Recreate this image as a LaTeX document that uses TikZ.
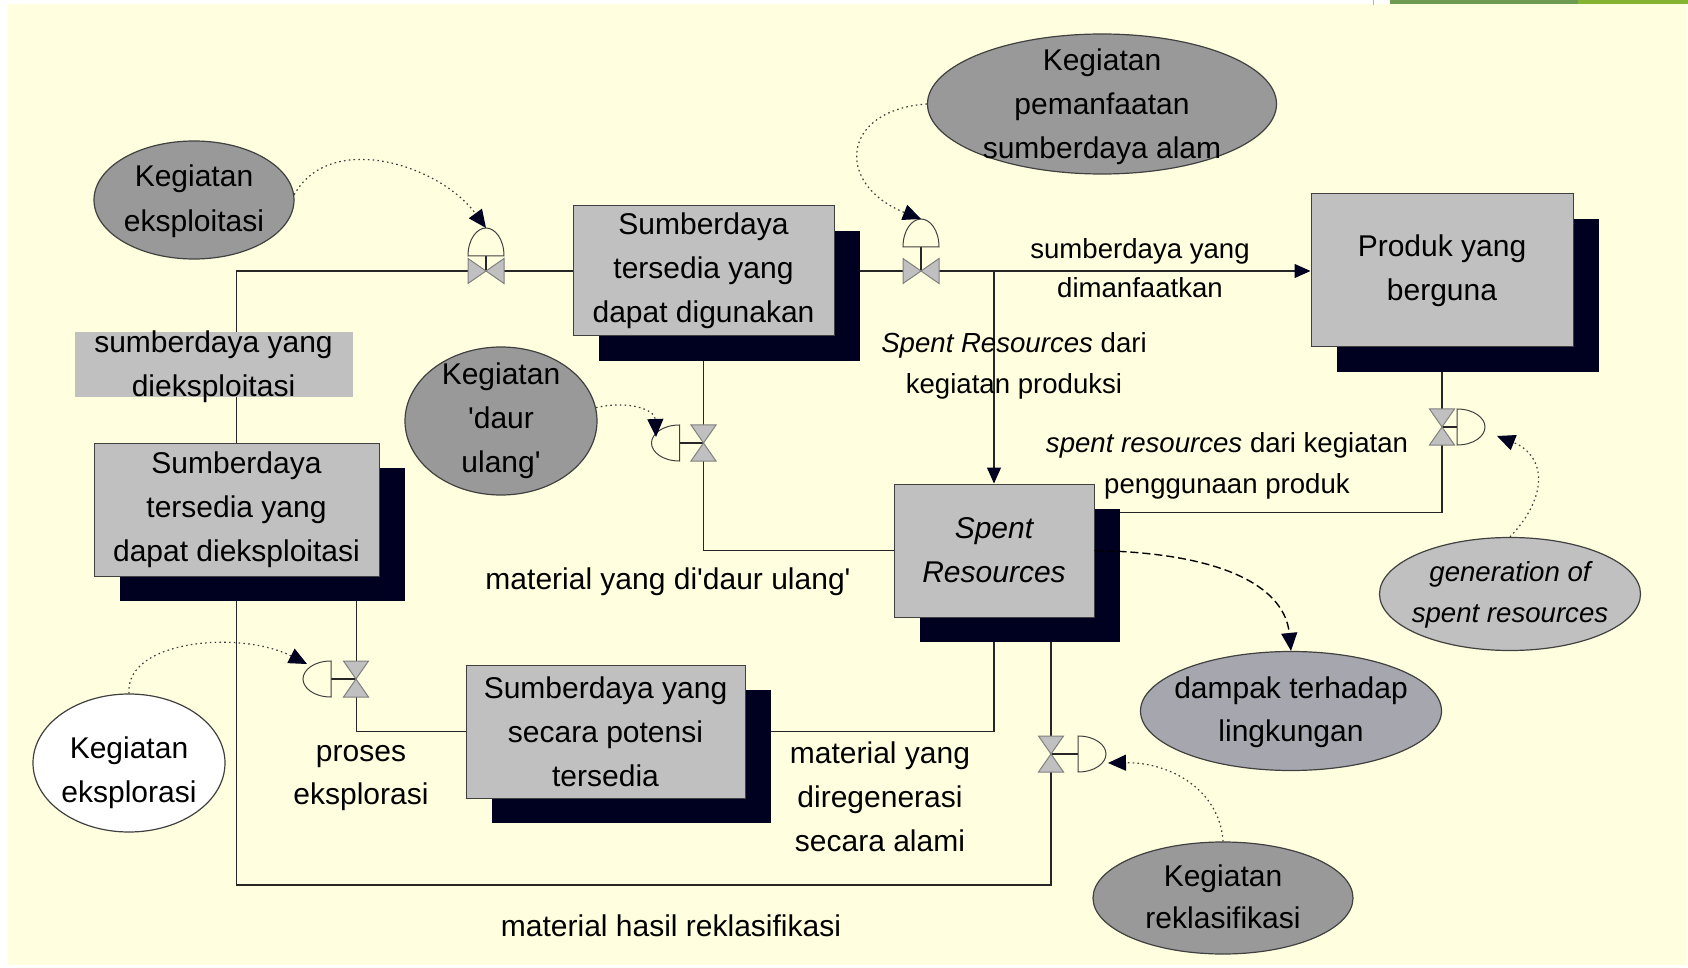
\documentclass[tikz,border=0pt]{standalone}
\usepackage{fontspec}
\setmainfont{Liberation Sans}
\usetikzlibrary{shapes.geometric,arrows.meta,shadows,calc}
\definecolor{bgy}{HTML}{FFFFDF}
\definecolor{boxg}{HTML}{C0C0C0}
\definecolor{ellg}{HTML}{999999}
\definecolor{navy}{HTML}{000020}
\definecolor{edge}{HTML}{404040}
\definecolor{dampakc}{HTML}{A6A6AE}
\definecolor{greenA}{HTML}{6F9A52}
\definecolor{greenB}{HTML}{84B431}
\pgfdeclarelayer{bg}
\pgfdeclarelayer{flows}
\pgfsetlayers{bg,flows,main}
\begin{document}
\begin{tikzpicture}[x=0.5pt,y=-0.5pt,
  txt/.style={align=center,inner sep=0pt,font=\fontsize{15pt}{22pt}\selectfont},
  smalltxt/.style={align=center,inner sep=0pt,font=\fontsize{13.8pt}{#1}\selectfont},
  stockbox/.style={draw=edge,fill=boxg,line width=0.5pt,inner sep=0pt,align=center,
    font=\fontsize{15pt}{22pt}\selectfont,
    drop shadow={shadow xshift=13pt,shadow yshift=-12.5pt,fill=navy,opacity=1}},
  ell/.style={ellipse,draw=edge,line width=0.6pt,fill=ellg,inner sep=0pt},
  flow/.style={draw=black!85,line width=0.6pt},
  flowarr/.style={flow,-{Triangle[length=8pt,width=7pt,color=navy]}},
  info/.style={draw=black!75,line width=0.6pt,dash pattern=on 0.8pt off 1.6pt,
    -{Triangle[length=9pt,width=8pt,color=navy]}},
  impact/.style={draw=black,line width=0.7pt,dash pattern=on 4pt off 2pt,
    -{Triangle[length=9pt,width=8pt,color=navy]}},
  pics/valve/.style={code={
    \draw[flow] (0,0) -- (0,-#1);
    \draw[draw=edge,line width=0.5pt,fill=bgy] (-18,-#1) .. controls (-18,-#1-17) and (-9,-#1-28) .. (0,-#1-28)
       .. controls (9,-#1-28) and (18,-#1-17) .. (18,-#1) -- cycle;
    \draw[draw=gray,fill=boxg,line width=0.5pt] (-18,-12.5) -- (0,0) -- (18,-12.5) -- (18,12.5) -- (0,0) -- (-18,12.5) -- cycle;
  }}
]
\useasboundingbox (0,0) rectangle (1688,968);
\begin{pgfonlayer}{bg}
\fill[white] (0,0) rectangle (1688,968);
\fill[bgy] (8,4) rectangle (1687,965);
\fill[greenA] (1390,0) rectangle (1578,4);
\fill[greenB] (1578,0) rectangle (1688,4);
\draw[black!30,line width=0.5pt] (1373,0) -- (1373,5);
\end{pgfonlayer}

% stocks
\node[stockbox,minimum width=130.5pt,minimum height=65pt] (boxA) at (703.5,271) {Sumberdaya\\tersedia yang\\dapat digunakan};
\node[stockbox,minimum width=131pt,minimum height=76.5pt] (boxP) at (1442,270.5) {Produk yang\\berguna};
\node[stockbox,minimum width=142.5pt,minimum height=66.5pt] (boxE) at (236.5,509.5) {Sumberdaya\\tersedia yang\\dapat dieksploitasi};
\node[stockbox,minimum width=100pt,minimum height=66.5pt,font=\fontsize{15pt}{22pt}\selectfont\itshape] (boxS) at (994,550.5) {Spent\\Resources};
\node[stockbox,minimum width=139.5pt,minimum height=66.5pt] (boxV) at (605.5,731.5) {Sumberdaya yang\\secara potensi\\tersedia};

% label on grey strip
\node[fill=boxg,minimum width=139pt,minimum height=32.5pt,inner sep=0pt] (lblRect) at (214,364.5) {};
\node[txt] (lblExp) at (213.5,367) {sumberdaya yang\\dieksploitasi};

% ellipses
\node[ell,minimum width=100pt,minimum height=59pt] (eExploit) at (194,200) {};
\node[txt,font=\fontsize{15pt}{22.5pt}\selectfont] (tExploit) at (194,201) {Kegiatan\\eksploitasi};
\node[ell,minimum width=174.5pt,minimum height=70pt] (ePeman) at (1102,104) {};
\node[txt] (tPeman) at (1102,107) {Kegiatan\\pemanfaatan\\sumberdaya alam};
\node[ell,minimum width=96pt,minimum height=74pt] (eDaur) at (501,421) {};
\node[txt] (tDaur) at (eDaur) {Kegiatan\\\textquotesingle daur\\ulang\textquotesingle};
\node[ell,fill=boxg,minimum width=130.5pt,minimum height=56.5pt] (eGen) at (1510,594) {};
\node[smalltxt=20.5pt,font=\fontsize{13.8pt}{20.5pt}\selectfont\itshape] (tGen) at (1510,595) {generation of\\spent resources};
\node[ell,fill=dampakc,minimum width=150.5pt,minimum height=59.5pt] (eDampak) at (1291,711) {};
\node[txt,font=\fontsize{15pt}{21.5pt}\selectfont] (tDampak) at (1291,712) {dampak terhadap\\lingkungan};
\node[ell,fill=white,minimum width=96pt,minimum height=69pt] (eEksplor) at (129,763) {};
\node[txt] (tEksplor) at (129,773) {Kegiatan\\eksplorasi};
\node[ell,minimum width=130pt,minimum height=56pt] (eReklas) at (1223,898) {};
\node[txt,font=\fontsize{15pt}{21pt}\selectfont] (tReklas) at (1223,897) {Kegiatan\\reklasifikasi};

% flow labels
\node[smalltxt=19.5pt] (lblUsed) at (1140,268) {sumberdaya yang\\dimanfaatkan};
\node[smalltxt=20.5pt] (lblSpentProd) at (1014,366) {\textit{Spent Resources} dari\\kegiatan produksi};
\node[smalltxt=20.5pt] (lblSpentUse) at (1227,466) {\textit{spent resources} dari kegiatan\\penggunaan produk};
\node[txt] (lblDaur) at (668,582) {material yang di\textquotesingle daur ulang\textquotesingle};
\node[txt,font=\fontsize{15pt}{21.5pt}\selectfont] (lblProses) at (361,778) {proses\\eksplorasi};
\node[txt] (lblRegen) at (880,797) {material yang\\diregenerasi\\secara alami};
\node[txt] (lblReklas) at (671,926) {material hasil reklasifikasi};

% flows
\begin{pgfonlayer}{flows}
\draw[flow] (boxE.north) |- (boxA.west);
\draw[flowarr] (boxA.east) -- (boxA.east -| boxP.west);
\coordinate (J1) at (boxS.north |- boxA.east);
\draw[flowarr] (J1) -- (boxS.north);
\draw[flow] (boxA.south) |- (boxS.west);
\coordinate (S2) at ([yshift=-14.5pt]boxS.north east);
\draw[flow] (boxP.south) |- (S2);
\draw[flow] (boxS.south) |- (boxV.east);
\coordinate (S3) at ([xshift=28.5pt]boxS.south);
\coordinate (B1) at (0,885);
\draw[flow] (S3) |- (B1 -| boxE.south) -- (boxE.south);
\coordinate (E2) at ([xshift=-11.5pt]boxE.south east);
\draw[flow] (E2) |- (boxV.west);
\end{pgfonlayer}

% valves
\pic at (486,271) {valve=15};
\pic at (921,271) {valve=24};
\pic[rotate=90] at (703.5,443) {valve=24};
\pic[rotate=-90] at (1442,427) {valve=15};
\pic[rotate=90] at (356,679) {valve=25};
\pic[rotate=-90] at (1051,754) {valve=27};

% information links
\coordinate (d1) at (486,228);
\coordinate (d2) at (921,219);
\coordinate (d3) at (656,437);
\coordinate (d4) at (1497,436);
\coordinate (d5) at (307,664);
\coordinate (d6) at (1108,763);
\draw[info] (eExploit.3) .. controls (330,130) and (440,165) .. (d1);
\draw[info] (ePeman.west) .. controls (840,110) and (835,185) .. (d2);
\draw[info] (eDaur.8) .. controls (630,400) and (655,410) .. (d3);
\draw[info] (eGen.north) .. controls (1550,495) and (1545,455) .. (d4);
\draw[info] (eEksplor.north) .. controls (125,640) and (240,630) .. (d5);
\draw[info] (eReklas.north) .. controls (1220,790) and (1170,762) .. (d6);
\draw[impact] (boxS.east) .. controls (1230,553) and (1285,590) .. (eDampak.north);
\end{tikzpicture}
\end{document}
